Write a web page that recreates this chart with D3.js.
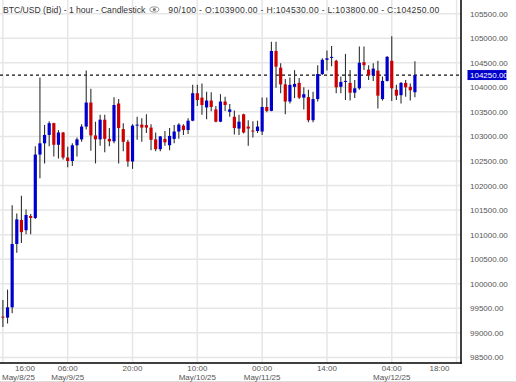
<!DOCTYPE html>
<html>
<head>
<meta charset="utf-8">
<script src="https://cdn.jsdelivr.net/npm/d3@7"></script>
<style>
  body { margin: 0; background: #fff; }
  svg { display: block; }
  text { font-family: "Liberation Sans", Arial, sans-serif; }
</style>
</head>
<body>
<script>
var svgWidth = 516, svgHeight = 382;
var plotRight = 461, plotBottom = 363;

// hourly candles, BTC/USD bid, 16:00 May 8 onwards
var opens = [99330, 99310, 99520, 100810, 101300, 101090, 101380, 101340, 102630, 102860,
  103030, 103270, 102830, 103080, 102570, 102500, 102820, 102940, 103200, 103690,
  103020, 102940, 103340, 102950, 102900, 103670, 103150, 102890, 102490, 103220,
  103240, 103230, 103180, 102940, 102740, 102950, 102820, 102950, 103100, 103220,
  103130, 103320, 103880, 103790, 103590, 103730, 103550, 103300, 103710, 103500,
  103400, 103160, 103450, 103200, 103120, 103110, 103100, 103600, 103520, 104740,
  104400, 104060, 103710, 104010, 104090, 103790, 103800, 103330, 103760, 104270,
  104560, 104600, 104540, 104010, 104110, 104090, 103890, 103980, 104510, 104360,
  104240, 104340, 103760, 104130, 104540, 103950, 103840, 104090, 104010, 103900];
var highs = [99670, 99880, 101600, 101430, 101790, 101510, 101420, 102800, 104200, 103230,
  103310, 103280, 103130, 103090, 102790, 102860, 102980, 103250, 104340, 103970,
  103300, 103440, 103440, 103170, 103800, 103760, 103270, 102930, 103250, 103400,
  103370, 103450, 103250, 103080, 103010, 103110, 103170, 103230, 103270, 103250,
  103370, 104050, 104050, 104080, 103910, 103900, 103620, 103860, 103810, 103660,
  103530, 103440, 103460, 103330, 103310, 103320, 103790, 103790, 104930, 104930,
  104490, 104170, 104200, 104350, 104190, 104000, 103950, 103910, 104450, 104590,
  104750, 104840, 104560, 104220, 104680, 104350, 104150, 104830, 104830, 104450,
  104490, 104540, 104220, 104640, 105040, 104050, 104110, 104150, 104080, 104530];
var lows = [99120, 99190, 99400, 100630, 100830, 101010, 101010, 101320, 102150, 102450,
  102800, 102590, 102550, 102530, 102370, 102400, 102590, 102890, 103140, 102710,
  102450, 102810, 102680, 102800, 102860, 102450, 102700, 102380, 102340, 102930,
  102890, 103070, 102720, 102700, 102700, 102810, 102720, 102860, 102950, 103030,
  103050, 103310, 103620, 103440, 103350, 103510, 103290, 103290, 103520, 103400,
  103040, 103030, 103060, 102810, 102980, 103070, 103030, 103490, 103510, 103990,
  103880, 103450, 103670, 103780, 103760, 103550, 103290, 103290, 103710, 104250,
  104340, 104430, 103880, 103880, 103740, 103730, 103780, 103950, 104350, 104150,
  104130, 103570, 103730, 104120, 103720, 103740, 103670, 103810, 103730, 103800];
var closes = [99310, 99520, 100810, 101310, 101050, 101400, 101340, 102630, 102860, 103030,
  103270, 102830, 103080, 102570, 102500, 102820, 102940, 103200, 103690, 103020,
  102940, 103340, 102950, 102900, 103640, 103170, 102890, 102490, 103220, 103240,
  103180, 103180, 102930, 102740, 103000, 102880, 103010, 103100, 103240, 103130,
  103320, 103880, 103740, 103640, 103730, 103600, 103300, 103710, 103640, 103550,
  103170, 103300, 103080, 103160, 103110, 103200, 103600, 103520, 104740, 104420,
  104060, 103710, 104050, 104070, 103790, 103860, 103330, 103760, 104270, 104560,
  104590, 104620, 104000, 104110, 104130, 103890, 103980, 104500, 104450, 104240,
  104380, 103830, 104130, 104620, 103980, 103830, 104090, 104000, 103940, 104250];

var slotCount = 100;
var tickIndex = [0, 14, 28, 42, 56, 70, 84, 98];
var tickTimes = ['16:00', '06:00', '20:00', '10:00', '00:00', '14:00', '04:00', '18:00'];
var tickDates = ['May/8/25', 'May/9/25', '', 'May/10/25', 'May/11/25', '', 'May/12/25', ''];
var priceTicks = [98500, 99000, 99500, 100000, 100500, 101000, 101500, 102000,
  102500, 103000, 103500, 104000, 104500, 105000, 105500];
var title = 'BTC/USD (Bid) - 1 hour - Candlestick';

var last = opens.length - 1;
var lastPrice = closes[last];

var svg = d3.select('body').append('svg')
  .attr('width', svgWidth)
  .attr('height', svgHeight);

var x = d3.scaleLinear().domain([0, slotCount - 1]).range([2.9, 461.2]);
var y = d3.scaleLinear().domain([98500, 105500]).range([357.4, 13.65]);

// grid
svg.selectAll('line.hgrid')
  .data(priceTicks)
  .enter().append('line')
  .attr('x1', 0).attr('x2', plotRight)
  .attr('y1', function(d) { return y(d); })
  .attr('y2', function(d) { return y(d); })
  .attr('stroke', '#e6e6e6').attr('stroke-width', 1.5);

svg.selectAll('line.vgrid')
  .data(tickIndex)
  .enter().append('line')
  .attr('x1', function(d) { return x(d); })
  .attr('x2', function(d) { return x(d); })
  .attr('y1', 0).attr('y2', plotBottom)
  .attr('stroke', '#e6e6e6').attr('stroke-width', 1.5);

// last price dashed line
svg.append('line')
  .attr('x1', 0).attr('x2', plotRight)
  .attr('y1', y(lastPrice)).attr('y2', y(lastPrice))
  .attr('stroke', '#111').attr('stroke-width', 1.2)
  .attr('stroke-dasharray', '3,3');

// candles
var candles = d3.range(opens.length).map(function(i) {
  return { i: i, o: opens[i], h: highs[i], l: lows[i], c: closes[i] };
});

svg.selectAll('line.wick')
  .data(candles)
  .enter().append('line')
  .attr('x1', function(d) { return x(d.i); })
  .attr('x2', function(d) { return x(d.i); })
  .attr('y1', function(d) { return y(d.h); })
  .attr('y2', function(d) { return y(d.l); })
  .attr('stroke', '#2f3030').attr('stroke-width', 1.1);

svg.selectAll('rect.body')
  .data(candles)
  .enter().append('rect')
  .attr('x', function(d) { return x(d.i) - 1.6; })
  .attr('width', 3.2)
  .attr('y', function(d) { return y(Math.max(d.o, d.c)); })
  .attr('height', function(d) { return Math.max(1, Math.abs(y(d.o) - y(d.c))); })
  .attr('fill', function(d) { return d.c >= d.o ? '#0000cc' : '#cc0000'; });

// frame
svg.append('line')
  .attr('x1', plotRight).attr('x2', plotRight)
  .attr('y1', 0).attr('y2', plotBottom + 0.75)
  .attr('stroke', '#000').attr('stroke-width', 1.5);
svg.append('line')
  .attr('x1', 0).attr('x2', plotRight + 0.75)
  .attr('y1', plotBottom).attr('y2', plotBottom)
  .attr('stroke', '#000').attr('stroke-width', 1.5);
svg.append('line')
  .attr('x1', 0).attr('x2', svgWidth)
  .attr('y1', 381.5).attr('y2', 381.5)
  .attr('stroke', '#dddddd').attr('stroke-width', 1);

// price axis labels
svg.selectAll('text.ylab')
  .data(priceTicks)
  .enter().append('text')
  .attr('x', 470)
  .attr('y', function(d) { return y(d) + 3; })
  .attr('font-size', 8)
  .attr('fill', '#555')
  .text(function(d) { return d3.format('.2f')(d); });

// last price tag
var tagY = y(lastPrice);
svg.append('rect')
  .attr('x', 467.5).attr('y', tagY - 5)
  .attr('width', 39).attr('height', 10)
  .attr('fill', '#0000cc');
svg.append('text')
  .attr('x', 470).attr('y', tagY + 3)
  .attr('font-size', 8)
  .attr('fill', '#fff')
  .text(d3.format('.2f')(lastPrice));

// time axis labels
var xl = svg.selectAll('g.xlab')
  .data(tickIndex)
  .enter().append('g');

xl.each(function(d, k) {
  var g = d3.select(this);
  var t1 = g.append('text')
    .attr('y', 371)
    .attr('font-size', 8)
    .attr('fill', '#555')
    .attr('text-anchor', 'middle')
    .text(tickTimes[k]);
  var t2 = g.append('text')
    .attr('y', 379.5)
    .attr('font-size', 8)
    .attr('fill', '#555')
    .attr('text-anchor', 'middle')
    .text(tickDates[k]);
  var w1 = t1.node().getComputedTextLength();
  var w2 = t2.node().getComputedTextLength();
  // edge labels get pushed inside the plot
  var c2 = Math.max(x(d), w2 / 2 + 2);
  var c1 = Math.max(x(d), w1 / 2 + 15);
  c1 = Math.min(c1, 449.5 - w1 / 2);
  t1.attr('x', c1);
  t2.attr('x', c2);
});

// header
var fmt = d3.format('.2f');
var head = svg.append('text')
  .attr('x', 3).attr('y', 12.5)
  .attr('font-size', 8.6)
  .attr('fill', '#333')
  .text(title);
var hw = head.node().getComputedTextLength();
var eyeX = 3 + hw + 9;
svg.append('ellipse')
  .attr('cx', eyeX).attr('cy', 9.5)
  .attr('rx', 4.5).attr('ry', 2.6)
  .attr('fill', 'none').attr('stroke', '#777').attr('stroke-width', 0.8);
svg.append('circle')
  .attr('cx', eyeX).attr('cy', 9.5).attr('r', 1.5)
  .attr('fill', '#777');
svg.append('text')
  .attr('x', eyeX + 14).attr('y', 12.5)
  .attr('font-size', 8.6)
  .attr('fill', '#333')
  .attr('textLength', 271)
  .attr('lengthAdjust', 'spacing')
  .text(opens.length + '/' + slotCount + ' - O:' + fmt(opens[last]) + ' - H:' + fmt(highs[last]) +
        ' - L:' + fmt(lows[last]) + ' - C:' + fmt(closes[last]));
</script>
</body>
</html>
